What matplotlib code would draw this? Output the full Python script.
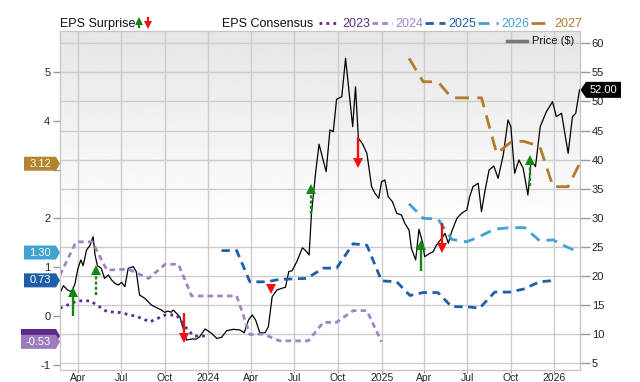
import numpy as np
import pandas as pd
import matplotlib
matplotlib.use("Agg")
import matplotlib.pyplot as plt
import matplotlib.dates as mdates
import matplotlib.transforms as mtransforms
from matplotlib.lines import Line2D
from matplotlib.patches import Polygon
from matplotlib.ticker import FuncFormatter

plt.rcParams['font.family'] = ['Liberation Sans', 'DejaVu Sans']

# price ($), right axis
price_dates = [
    "2023-02-22", "2023-03-01", "2023-03-10", "2023-03-18", "2023-03-25", "2023-04-01", "2023-04-07",
    "2023-04-12", "2023-04-19", "2023-04-26", "2023-05-03", "2023-05-07", "2023-05-12", "2023-05-20",
    "2023-05-27", "2023-06-04", "2023-06-11", "2023-06-18", "2023-06-25", "2023-07-02", "2023-07-09",
    "2023-07-16", "2023-07-27", "2023-08-02", "2023-08-09", "2023-08-20", "2023-09-03", "2023-09-17",
    "2023-09-24", "2023-10-01", "2023-10-08", "2023-10-15", "2023-10-19", "2023-10-26", "2023-11-02",
    "2023-11-11", "2023-11-16", "2023-11-27", "2023-12-07", "2023-12-14", "2023-12-25",
    "2024-01-01", "2024-01-08", "2024-01-19", "2024-01-29", "2024-02-09", "2024-02-23", "2024-03-08",
    "2024-03-17", "2024-03-26", "2024-04-03", "2024-04-10", "2024-04-19", "2024-04-30", "2024-05-07",
    "2024-05-15", "2024-05-25", "2024-06-04", "2024-06-12", "2024-06-19", "2024-06-26", "2024-07-06",
    "2024-07-18", "2024-07-27", "2024-08-01", "2024-08-06", "2024-08-15", "2024-08-22", "2024-09-06",
    "2024-09-14", "2024-09-21", "2024-09-28", "2024-10-09", "2024-10-17", "2024-11-01", "2024-11-07",
    "2024-11-13", "2024-11-22", "2024-12-01", "2024-12-11", "2024-12-18", "2024-12-26",
    "2025-01-01", "2025-01-08", "2025-01-15", "2025-01-24", "2025-02-02", "2025-02-12", "2025-02-19",
    "2025-02-28", "2025-03-05", "2025-03-14", "2025-03-21", "2025-03-29", "2025-04-02", "2025-04-13",
    "2025-04-20", "2025-04-27", "2025-05-08", "2025-05-15", "2025-05-22", "2025-05-29", "2025-06-09",
    "2025-06-19", "2025-06-30", "2025-07-06", "2025-07-13", "2025-07-24", "2025-07-31", "2025-08-07",
    "2025-08-16", "2025-08-26", "2025-09-04", "2025-09-15", "2025-09-25", "2025-10-01", "2025-10-09",
    "2025-10-18", "2025-10-27", "2025-11-06", "2025-11-13", "2025-11-22", "2025-12-02", "2025-12-15",
    "2025-12-28", "2026-01-05", "2026-01-16", "2026-01-30", "2026-02-08", "2026-02-15", "2026-02-23",
]
price = [
    17.04, 18.35, 17.61, 17.32, 18.47, 21.34, 22.77, 21.79, 24.48, 25.22, 26.77, 23.63, 21.79, 21.34,
    19.62, 20.19, 19.33, 18.76, 18.47, 18.93, 18.18, 21.34, 21.62, 20.76, 16.75, 16.19, 15.03, 14.47,
    14.18, 13.78, 14.00, 13.78, 14.18, 13.61, 13.02, 10.45, 9.02, 9.19, 9.19, 9.59, 10.91,
    10.57, 10.17, 9.31, 9.48, 10.62, 10.86, 10.74, 10.27, 12.46, 13.32, 12.46, 10.27, 10.27, 11.31,
    16.46, 17.61, 17.90, 18.08, 20.76, 20.93, 22.47, 24.88, 24.19, 23.63, 30.79, 37.94, 42.65, 37.94,
    45.10, 44.81, 50.38, 50.82, 57.42, 45.67, 52.54, 43.68, 42.70, 41.10, 35.36, 34.23, 33.37,
    36.22, 36.51, 33.64, 32.78, 30.79, 30.50, 29.07, 27.92, 24.78, 22.77, 28.04, 25.64, 23.33, 23.92,
    24.19, 25.34, 26.49, 27.35, 25.64, 27.63, 29.93, 30.79, 31.36, 33.64, 35.36, 35.95, 31.07, 34.50,
    38.23, 38.92, 36.80, 40.81, 46.82, 45.67, 37.66, 39.95, 38.52, 33.93, 39.95, 38.80, 45.67, 48.25,
    49.97, 47.39, 47.97, 41.10, 47.39, 47.97, 52.00,
]

# EPS consensus by fiscal year, left axis
eps23_dates = ["2023-02-22", "2023-03-31", "2023-04-27", "2023-06-01", "2023-06-29", "2023-08-03",
               "2023-08-31", "2023-10-02", "2023-10-26", "2023-11-16", "2023-12-01", "2023-12-29"]
eps23 = [0.16, 0.31, 0.31, 0.09, 0.07, -0.01, -0.12, 0.02, 0.02, -0.25, -0.41, -0.41]

eps24_dates = ["2023-02-22", "2023-03-28", "2023-05-01", "2023-06-01", "2023-07-16", "2023-08-28",
               "2023-10-02", "2023-10-30", "2023-11-27", "2024-03-01", "2024-03-29", "2024-04-26",
               "2024-05-31", "2024-07-30", "2024-08-31", "2024-09-28", "2024-11-02", "2024-12-01",
               "2025-01-01"]
eps24 = [0.84, 1.52, 1.52, 0.94, 0.96, 0.77, 1.06, 1.06, 0.41, 0.41, -0.38, -0.37,
         -0.51, -0.51, -0.13, -0.13, 0.11, 0.11, -0.53]

eps25_dates = ["2024-01-29", "2024-03-01", "2024-03-29", "2024-05-03", "2024-05-31", "2024-07-27",
               "2024-08-31", "2024-09-28", "2024-11-02", "2024-12-01", "2025-01-01", "2025-02-02",
               "2025-03-02", "2025-03-30", "2025-04-30", "2025-05-29", "2025-06-30", "2025-07-27",
               "2025-08-28", "2025-09-29", "2025-10-27", "2025-12-01", "2026-01-02"]
eps25 = [1.34, 1.34, 0.70, 0.70, 0.75, 0.77, 0.98, 0.98, 1.48, 1.45, 0.72, 0.70,
         0.42, 0.48, 0.48, 0.19, 0.19, 0.16, 0.49, 0.49, 0.55, 0.70, 0.73]

eps26_dates = ["2025-02-28", "2025-03-30", "2025-04-30", "2025-05-29", "2025-06-30", "2025-07-27",
               "2025-08-28", "2025-09-29", "2025-10-30", "2025-12-01", "2025-12-29", "2026-01-26",
               "2026-02-23"]
eps26 = [2.30, 2.00, 1.99, 1.57, 1.52, 1.63, 1.78, 1.81, 1.81, 1.54, 1.56, 1.42, 1.30]

eps27_dates = ["2025-02-28", "2025-03-30", "2025-04-30", "2025-05-29", "2025-07-31", "2025-09-01",
               "2025-10-02", "2025-10-27", "2025-12-01", "2025-12-29", "2026-01-30", "2026-02-23"]
eps27 = [5.28, 4.80, 4.80, 4.47, 4.47, 3.33, 3.57, 3.58, 3.48, 2.65, 2.65, 3.12]

# EPS surprise arrows (left axis units)
surprise_dates = ["2023-03-21", "2023-05-09", "2023-11-11", "2024-05-12", "2024-08-05",
                  "2024-11-13", "2025-03-26", "2025-05-08", "2025-11-10"]
surprise_from = [0.00, 0.43, 0.07, 0.66, 2.09, 3.67, 0.93, 1.91, 2.66]
surprise_to = [0.57, 1.01, -0.53, 0.49, 2.68, 3.06, 1.52, 1.32, 3.26]
surprise_dashed = [False, True, False, False, True, False, False, False, True]

last_price = 52.00
last_eps = {"2023": -0.41, "2024": -0.53, "2025": 0.73, "2026": 1.30, "2027": 3.12}

c23, c24, c25, c26, c27 = "#5b2a86", "#a383c4", "#1f5ea8", "#41a3d2", "#b07c2c"
grid_c = "#cccccc"

W, H = 640, 382
L, R, T, B = 60, 580, 30.7, 370
fig = plt.figure(figsize=(W / 100, H / 100), dpi=100)
ax = fig.add_axes([L / W, (H - B) / H, (R - L) / W, (B - T) / H])
ax2 = ax.twinx()

# plot background gradient
grad = np.clip(0.9 + 0.1 * np.linspace(0, 1, 200) / 0.6, 0, 1).reshape(-1, 1)
ax.imshow(grad, extent=[0, 1, 0, 1], transform=ax.transAxes, aspect='auto',
          cmap='gray', vmin=0, vmax=1, zorder=0)

x0 = pd.Timestamp("2023-02-22")
x1 = pd.Timestamp("2026-02-24")
ax.set_xlim(x0, x1)
ax.set_ylim(3.87, 62.16)
ax2.set_ylim(-1.107, 5.846)

ax.plot(pd.to_datetime(price_dates), price, color="black", lw=0.9, zorder=3)

ax.grid(True, color=grid_c, lw=1)
ax.set_axisbelow(True)
ax.yaxis.tick_right()
ax.set_yticks(range(5, 61, 5))
ax.tick_params(axis='y', right=True, left=False, length=7, width=1, color="#999999",
               labelsize=8, pad=1.5, labelcolor="#222222")
ax.xaxis.set_major_locator(mdates.MonthLocator(bymonth=[1, 4, 7, 10]))
ax.xaxis.set_major_formatter(FuncFormatter(
    lambda v, p: str(mdates.num2date(v).year) if mdates.num2date(v).month == 1
    else mdates.num2date(v).strftime("%b")))
ax.tick_params(axis='x', length=2, color="#999999", labelsize=7.5, pad=0.5, labelcolor="#222222")

ax2.yaxis.tick_left()
ax2.set_yticks(range(-1, 6))
ax2.set_yticklabels(["-1", "0", "1", "2", "", "4", "5"])
ax2.tick_params(axis='y', left=True, right=False, length=5, width=1, color="#999999",
                labelsize=8, pad=2, labelcolor="#222222")
for a in (ax, ax2):
    for s in a.spines.values():
        s.set_color("#c4c4c4")

# consensus lines
ax2.plot(pd.to_datetime(eps23_dates), eps23, color=c23, lw=2, dashes=(1, 1.5), zorder=2)
ax2.plot(pd.to_datetime(eps24_dates), eps24, color=c24, lw=2, dashes=(2, 1.5), zorder=2)
ax2.plot(pd.to_datetime(eps25_dates), eps25, color=c25, lw=2, dashes=(3, 2), zorder=2)
ax2.plot(pd.to_datetime(eps26_dates), eps26, color=c26, lw=2, dashes=(4, 2.5), zorder=2)
ax2.plot(pd.to_datetime(eps27_dates), eps27, color=c27, lw=2, dashes=(5, 3), zorder=2)

# surprise arrows
eps_per_px = (5.846 + 1.107) / (B - T)
for d, y0, y1, dsh in zip(surprise_dates, surprise_from, surprise_to, surprise_dashed):
    up = y1 > y0
    col = "#118811" if up else "#ee1111"
    sgn = 1 if up else -1
    xd = pd.Timestamp(d)
    ax2.plot([xd, xd], [y0, y1 - sgn * 6 * eps_per_px], color=col, lw=1.7,
             ls=(0, (1.3, 0.9)) if dsh else '-', zorder=6, solid_capstyle='butt')
    ax2.plot([xd], [y1 - sgn * 3.5 * eps_per_px], marker='^' if up else 'v',
             color=col, ms=7, mew=0, zorder=7)


def tag(a, y, text, color, xl, xr, tip, hpx, per_px, z=10):
    # xl < xr is the box body, tip is the pointer x (pixels)
    tr = mtransforms.blended_transform_factory(a.transAxes, a.transData)
    fx = lambda px: (px - L) / (R - L)
    h = hpx / 2 * per_px
    if tip > xr:
        pts = [(fx(xl), y - h), (fx(xr), y - h), (fx(tip), y), (fx(xr), y + h), (fx(xl), y + h)]
    else:
        pts = [(fx(xr), y - h), (fx(xl), y - h), (fx(tip), y), (fx(xl), y + h), (fx(xr), y + h)]
    a.add_patch(Polygon(pts, closed=True, transform=tr, facecolor=color, edgecolor='none',
                        clip_on=False, zorder=z))
    if text:
        a.text(fx((xl + xr) / 2), y, text, transform=tr, color="white", fontsize=8, ha='center',
               va='center', zorder=z + 1, clip_on=False)


tag(ax2, last_eps["2023"], "", c23, 21, 56, 60, 14, eps_per_px, z=9)
tag(ax2, last_eps["2024"], "%.2f" % last_eps["2024"], "#9d7bbd", 21, 56, 60, 14, eps_per_px)
tag(ax2, last_eps["2025"], "%.2f" % last_eps["2025"], c25, 24, 56, 60, 14, eps_per_px)
tag(ax2, last_eps["2026"], "%.2f" % last_eps["2026"], c26, 24, 56, 60, 14, eps_per_px)
tag(ax2, last_eps["2027"], "%.2f" % last_eps["2027"], "#b5842e", 24, 56, 60, 14, eps_per_px)
price_per_px = (62.16 - 3.87) / (B - T)
tag(ax, last_price, "%.2f" % last_price, "black", 586, 621, 580.5, 16, price_per_px)

# header legend
fy = lambda py: 1 - py / H
fxp = lambda px: px / W
fig.text(fxp(60), fy(27.3), "EPS Surprise", fontsize=9, color="#111111", va='baseline')
for x, up, col in [(138.5, True, "#118811"), (148, False, "#ee1111")]:
    fig.add_artist(Line2D([fxp(x), fxp(x)], [fy(27) if up else fy(18), fy(22) if up else fy(23)],
                          transform=fig.transFigure, color=col, lw=1.6))
    fig.add_artist(Line2D([fxp(x)], [fy(20.5) if up else fy(24.5)], transform=fig.transFigure,
                          marker='^' if up else 'v', color=col, ms=5.5, mew=0))
fig.text(fxp(222), fy(27.3), "EPS Consensus", fontsize=9, color="#111111", va='baseline')
items = [("2023", c23, (1, 1.5), 319, 342), ("2024", c24, (2, 1.5), 372, 395),
         ("2025", c25, (3, 2), 425, 448), ("2026", c26, (4, 2.5), 478, 501),
         ("2027", c27, (5, 3), 531, 554)]
for lab, col, dsh, lx, tx in items:
    fig.add_artist(Line2D([fxp(lx), fxp(lx + 20)], [fy(23), fy(23)], transform=fig.transFigure,
                          color=col, lw=2, dashes=dsh))
    fig.text(fxp(tx), fy(27.3), lab, fontsize=9, color=col, va='baseline')

fig.add_artist(Line2D([fxp(507), fxp(527)], [fy(41), fy(41)], transform=fig.transFigure,
                      color="#777777", lw=2.5))
fig.text(fxp(532), fy(44.5), "Price ($)", fontsize=8, color="#111111", va='baseline')

fig.savefig("out.png", dpi=100)
